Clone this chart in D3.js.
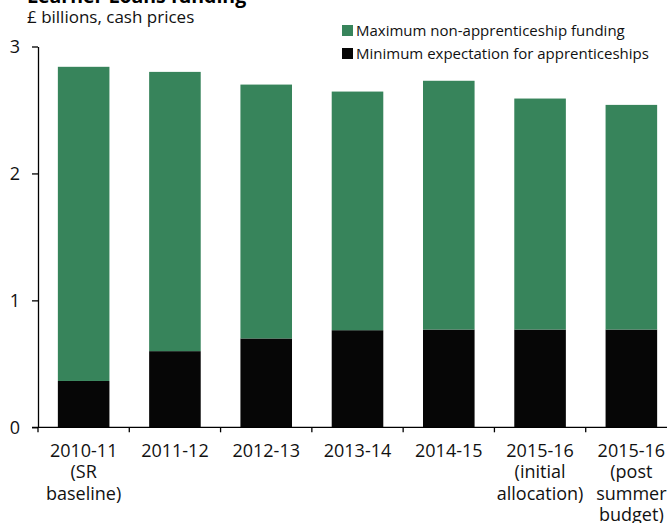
<!DOCTYPE html>
<html>
<head>
<meta charset="utf-8">
<script src="https://cdn.jsdelivr.net/npm/d3@7"></script>
<style>
  body { margin: 0; background: #fff; }
  svg { display: block; font-family: "Open Sans", sans-serif; }
</style>
</head>
<body>
<svg id="chart" width="667" height="523"></svg>
<script>
const categories = [
  ["2010-11", "(SR", "baseline)"],
  ["2011-12"],
  ["2012-13"],
  ["2013-14"],
  ["2014-15"],
  ["2015-16", "(initial", "allocation)"],
  ["2015-16", "(post", "summer", "budget)"]
];
const apprenticeships = [0.365, 0.60, 0.70, 0.765, 0.77, 0.77, 0.77];
const nonApprenticeship = [2.475, 2.20, 2.00, 1.88, 1.96, 1.82, 1.77];
const yTicks = [0, 1, 2, 3];
const seriesNames = ["Maximum non-apprenticeship funding", "Minimum expectation for apprenticeships"];

const green = "#37845b";
const black = "#060606";
const textColor = "#111";

const svg = d3.select("#chart");

const x = d3.scaleBand()
  .domain(d3.range(categories.length))
  .range([38, 677])
  .paddingInner(0.435)
  .paddingOuter(0.2175);

const y = d3.scaleLinear().domain([0, 3]).range([427.3, 46.5]);

// title (cut off at the top in the original)
svg.append("text")
  .attr("x", 27).attr("y", 3)
  .attr("font-size", 19.5).attr("font-weight", "bold")
  .text("Learner Loans funding");

svg.append("text")
  .attr("x", 27).attr("y", 23)
  .attr("font-size", 17).attr("fill", textColor)
  .text("£ billions, cash prices");

// bars
const data = categories.map((c, i) => ({ i, app: apprenticeships[i], non: nonApprenticeship[i] }));

svg.append("g").selectAll("rect")
  .data(data).join("rect")
  .attr("x", d => x(d.i)).attr("width", x.bandwidth())
  .attr("y", d => y(d.app)).attr("height", d => y(0) - y(d.app))
  .attr("fill", black);

svg.append("g").selectAll("rect")
  .data(data).join("rect")
  .attr("x", d => x(d.i)).attr("width", x.bandwidth())
  .attr("y", d => y(d.app + d.non)).attr("height", d => y(d.app) - y(d.app + d.non))
  .attr("fill", green);

// y axis
const yAxis = svg.append("g")
  .attr("transform", `translate(${x.range()[0]},0)`)
  .call(d3.axisLeft(y).tickValues(yTicks).tickFormat(d3.format("d"))
    .tickSize(6).tickPadding(12).tickSizeOuter(0));
yAxis.select(".domain").attr("stroke", "#000").attr("stroke-width", 1.3);
yAxis.selectAll("line").attr("stroke-width", 1.3);
yAxis.selectAll("text").attr("font-size", 18).attr("fill", textColor).attr("font-family", "Open Sans");

// x axis line and boundary ticks
const xg = svg.append("g").attr("transform", `translate(0,${y(0)})`);
xg.append("line")
  .attr("x1", x.range()[0] - 6).attr("x2", x.range()[1])
  .attr("stroke", "#000").attr("stroke-width", 1.3);
xg.selectAll("line.tick")
  .data(d3.range(categories.length + 1)).join("line")
  .attr("class", "tick")
  .attr("x1", i => x.range()[0] + i * x.step()).attr("x2", i => x.range()[0] + i * x.step())
  .attr("y1", 0).attr("y2", 5)
  .attr("stroke", "#000").attr("stroke-width", 1.3);

const labels = xg.selectAll("text.lab")
  .data(categories).join("text")
  .attr("class", "lab")
  .attr("text-anchor", "middle")
  .attr("font-size", 18).attr("fill", textColor)
  .attr("transform", (d, i) => `translate(${x(i) + x.bandwidth() / 2},29.5)`);
labels.selectAll("tspan")
  .data(d => d).join("tspan")
  .attr("x", 0).attr("y", (d, j) => j * 21.5)
  .text(d => d);

// legend
const legend = svg.append("g").attr("transform", "translate(342,25)");
const items = legend.selectAll("g")
  .data(seriesNames).join("g")
  .attr("transform", (d, i) => `translate(0,${i * 23})`);
items.append("rect").attr("width", 11).attr("height", 11)
  .attr("fill", (d, i) => i === 0 ? green : black);
items.append("text").attr("x", 14).attr("y", 10.5)
  .attr("font-size", 15).attr("fill", textColor)
  .text(d => d);
</script>
</body>
</html>
